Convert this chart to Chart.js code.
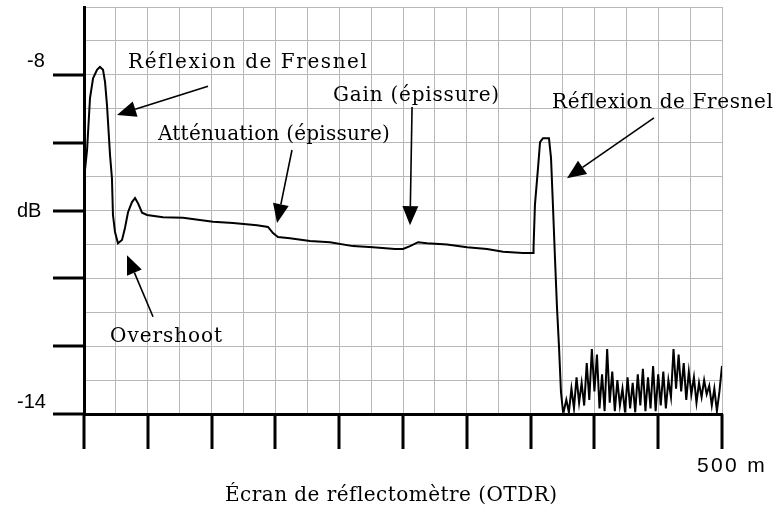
<!DOCTYPE html>
<html lang="fr">
<head>
  <meta charset="UTF-8" />
  <title>Écran de réflectomètre (OTDR)</title>
  <script src="https://cdn.jsdelivr.net/npm/chart.js"></script>
  <style>
    html, body {
      margin: 0;
      padding: 0;
      background: #fff;
    }

    .chart-wrapper {
      width: 777px;
      height: 508px;
      position: relative;
    }
  </style>
</head>
<body>

  <div class="chart-wrapper">
    <canvas id="otdr"></canvas>
  </div>

  <script>
    // trace OTDR : distance (m) et niveau (dB)
    const distance = [0, 2.4, 4.7, 7.1, 10.2, 12.5, 14.9, 16.5, 18.0, 20.4, 21.9, 22.7, 24.3, 26.6, 29.8, 32.1,
      34.5, 37.6, 40.0, 42.3, 45.5, 49.4, 61.9, 77.6, 101.1, 116.8, 135.6, 144.2, 148.1, 152.0, 161.4,
      177.1, 192.8, 210.8, 226.5, 243.7, 250.0, 255.5, 261.8, 268.8, 284.5, 300.2, 315.8, 328.4, 344.0,
      351.9, 352.3, 353.4, 355.8, 357.4, 359.7, 364.4, 366.0, 367.6, 369.1, 370.7, 372.3, 373.8, 375.4];
    const niveau = [-9.86, -9.33, -8.41, -8.06, -7.91, -7.86, -7.91, -8.13, -8.53, -9.42, -9.83, -10.48, -10.78,
      -10.98, -10.92, -10.71, -10.43, -10.25, -10.18, -10.27, -10.44, -10.48, -10.52, -10.53, -10.60,
      -10.62, -10.66, -10.69, -10.80, -10.87, -10.89, -10.94, -10.96, -11.03, -11.05, -11.08, -11.08,
      -11.03, -10.96, -10.98, -11.00, -11.05, -11.08, -11.13, -11.15, -11.15, -11.06, -10.30, -9.65,
      -9.19, -9.12, -9.12, -9.47, -10.36, -11.24, -12.12, -12.83, -13.61, -13.96];

    // bruit après la fin de la fibre
    const bruitDistance = [376, 378, 380, 382, 384, 386, 388, 390, 392, 394, 396, 398, 400, 402, 404, 406, 408,
      410, 412, 414, 416, 418, 420, 422, 424, 426, 428, 430, 432, 434, 436, 438, 440, 442, 444, 446, 448,
      450, 452, 454, 456, 458, 460, 462, 464, 466, 468, 470, 472, 474, 476, 478, 480, 482, 484, 486, 488,
      490, 492, 494, 496, 498, 500];
    const bruitNiveau = [-13.95, -13.75, -13.97, -13.55, -13.90, -13.35, -13.80, -13.45, -13.85, -13.10, -13.75,
      -12.85, -13.60, -12.95, -13.90, -13.30, -13.95, -12.85, -13.80, -13.25, -13.95, -13.40, -13.85,
      -13.55, -13.97, -13.35, -13.90, -13.45, -13.97, -13.30, -13.85, -13.20, -13.95, -13.35, -13.90,
      -13.15, -13.95, -13.30, -13.85, -13.25, -13.90, -13.40, -13.70, -12.85, -13.55, -12.95, -13.60,
      -13.10, -13.75, -13.25, -13.65, -13.35, -13.80, -13.45, -13.70, -13.40, -13.65, -13.50, -13.85,
      -13.55, -13.95, -13.60, -13.15];

    const xMajorTicks = [0, 50, 100, 150, 200, 250, 300, 350, 400, 450, 500];
    const yMajorTicks = [-8, -9.2, -10.4, -11.6, -12.8, -14];
    const yTickValues = [-8, -10.4, -14];
    const yTickLabels = ['-8', 'dB', '-14'];
    const xTickLabel = '500 m';
    const xTitle = 'Écran de réflectomètre (OTDR)';

    // annotations (position en m / dB)
    const notes = [
      { text: 'Réflexion de Fresnel', x: 34.5, y: -7.79, w: 240 },
      { text: 'Atténuation (épissure)', x: 58, y: -9.06, w: 232 },
      { text: 'Gain (épissure)', x: 195.1, y: -8.37, w: 167 },
      { text: 'Réflexion de Fresnel', x: 366.8, y: -8.50, w: 221 },
      { text: 'Overshoot', x: 20.4, y: -12.64, w: 113 }
    ];
    const fleches = [
      { from: [97.2, -8.20], to: [25.9, -8.71] },
      { from: [163.0, -9.33], to: [151.3, -10.62] },
      { from: [257.1, -8.57], to: [255.5, -10.66] },
      { from: [446.7, -8.76], to: [378.5, -9.83] },
      { from: [54.1, -12.28], to: [33.7, -11.19] }
    ];

    const serif = '"DejaVu Serif", "Liberation Serif", serif';
    const sans = '"Liberation Sans", Arial, sans-serif';

    function fitText(ctx, txt, left, cy, width, font) {
      ctx.font = font;
      ctx.letterSpacing = '0px';
      const w = ctx.measureText(txt).width;
      ctx.letterSpacing = ((width - w) / txt.length) + 'px';
      ctx.fillText(txt, left, cy);
      ctx.letterSpacing = '0px';
    }

    function arrow(ctx, x1, y1, x2, y2) {
      const ang = Math.atan2(y2 - y1, x2 - x1);
      const len = 19, half = 8;
      const bx = x2 - Math.cos(ang) * len, by = y2 - Math.sin(ang) * len;
      ctx.beginPath();
      ctx.moveTo(x1, y1);
      ctx.lineTo(bx, by);
      ctx.stroke();
      ctx.beginPath();
      ctx.moveTo(x2, y2);
      ctx.lineTo(bx - Math.sin(ang) * half, by + Math.cos(ang) * half);
      ctx.lineTo(bx + Math.sin(ang) * half, by - Math.cos(ang) * half);
      ctx.closePath();
      ctx.fill();
    }

    const decor = {
      id: 'decor',
      afterDraw(chart) {
        const { ctx, chartArea: a, scales: { x, y } } = chart;
        ctx.save();
        ctx.strokeStyle = '#000';
        ctx.fillStyle = '#000';

        // graduations principales
        ctx.lineWidth = 3;
        xMajorTicks.forEach(v => {
          const px = Math.round(x.getPixelForValue(v));
          ctx.beginPath();
          ctx.moveTo(px, a.bottom);
          ctx.lineTo(px, a.bottom + 35);
          ctx.stroke();
        });
        yMajorTicks.forEach(v => {
          const py = Math.round(y.getPixelForValue(v));
          ctx.beginPath();
          ctx.moveTo(a.left - 31, py);
          ctx.lineTo(a.left, py);
          ctx.stroke();
        });

        // libellés des axes
        ctx.textBaseline = 'middle';
        ctx.textAlign = 'left';
        const yOffsets = [-13, 1, -12];
        const yLefts = [27, 17, 17];
        yTickValues.forEach((v, i) => {
          ctx.font = '20px ' + sans;
          ctx.fillText(yTickLabels[i], yLefts[i], y.getPixelForValue(v) + yOffsets[i]);
        });
        fitText(ctx, xTickLabel, x.getPixelForValue(500) - 25, a.bottom + 52, 70, '21px ' + sans);
        fitText(ctx, xTitle, 225, 496, 332, '20px ' + serif);

        // annotations et flèches
        notes.forEach(n => {
          fitText(ctx, n.text, x.getPixelForValue(n.x), y.getPixelForValue(n.y), n.w, '20px ' + serif);
        });
        ctx.lineWidth = 1.6;
        fleches.forEach(f => {
          arrow(ctx, x.getPixelForValue(f.from[0]), y.getPixelForValue(f.from[1]),
            x.getPixelForValue(f.to[0]), y.getPixelForValue(f.to[1]));
        });
        ctx.restore();
      }
    };

    const trace = distance.map((d, i) => ({ x: d, y: niveau[i] }))
      .concat(bruitDistance.map((d, i) => ({ x: d, y: bruitNiveau[i] })));

    new Chart(document.getElementById('otdr'), {
      type: 'line',
      data: {
        datasets: [{
          data: trace,
          borderColor: '#000',
          borderWidth: 2,
          pointRadius: 0,
          tension: 0,
          fill: false
        }]
      },
      options: {
        responsive: true,
        maintainAspectRatio: false,
        animation: false,
        layout: { padding: { left: 84, top: 7, right: 55, bottom: 94 } },
        plugins: {
          legend: { display: false },
          tooltip: { enabled: false }
        },
        scales: {
          x: {
            type: 'linear',
            min: 0,
            max: 500,
            ticks: { display: false, stepSize: 25 },
            grid: { color: '#b8b8b8', lineWidth: 1, drawTicks: false },
            border: { color: '#000', width: 3 }
          },
          y: {
            min: -14,
            max: -6.8,
            ticks: { display: false, stepSize: 0.6 },
            grid: { color: '#b8b8b8', lineWidth: 1, drawTicks: false },
            border: { color: '#000', width: 3 }
          }
        }
      },
      plugins: [decor]
    });
  </script>
</body>
</html>
